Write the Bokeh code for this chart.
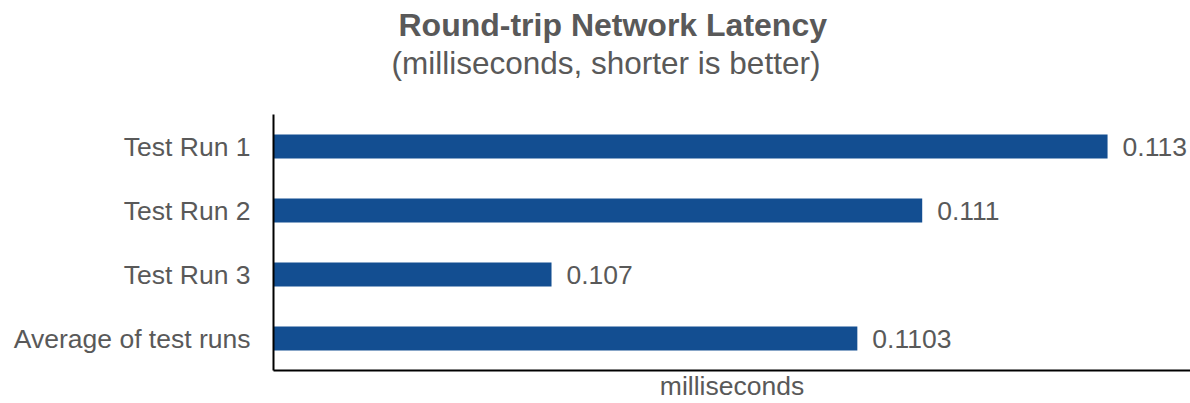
from bokeh.plotting import figure
from bokeh.models import Range1d, Title, ColumnDataSource, FixedTicker
from bokeh.core.properties import value
from bokeh.embed import file_html
from bokeh.resources import INLINE

categories = ["Test Run 1", "Test Run 2", "Test Run 3", "Average of test runs"]
latency_ms = [0.113, 0.111, 0.107, 0.1103]
value_labels = ["0.113", "0.111", "0.107", "0.1103"]
title_text = "Round-trip Network Latency"
subtitle_text = "(milliseconds, shorter is better)"
x_axis_label = "milliseconds"

x_start = 0.104
x_end = 0.113895

FONT = "'Liberation Sans', Arial, sans-serif"
GRAY = "#595959"
BAR = "#134E91"

src = ColumnDataSource(dict(cat=categories, val=latency_ms, lab=value_labels))

p = figure(width=1190, height=403, output_backend="svg", toolbar_location=None,
           y_range=list(reversed(categories)), x_range=Range1d(x_start, x_end),
           min_border_left=273, min_border_right=0, min_border_top=114,
           min_border_bottom=33)
p.title.visible = False

p.hbar(y="cat", left=x_start, right="val", height=0.375, source=src,
       fill_color=BAR, line_color=None)
p.text(x="val", y="cat", text="lab", source=src, x_offset=15,
       text_align="left", text_baseline="middle",
       text_font=value(FONT), text_font_size="26.5px", text_color=GRAY)

p.xgrid.visible = False
p.ygrid.visible = False
p.outline_line_color = None
p.background_fill_color = "white"

p.yaxis.axis_line_color = "black"
p.yaxis.axis_line_width = 2
p.yaxis.major_tick_line_color = None
p.yaxis.minor_tick_line_color = None
p.yaxis.major_tick_out = 0
p.yaxis.major_label_standoff = 23
p.yaxis.major_label_text_font = FONT
p.yaxis.major_label_text_font_size = "26.5px"
p.yaxis.major_label_text_color = GRAY

p.xaxis.ticker = FixedTicker(ticks=[])
p.xaxis.axis_line_color = "black"
p.xaxis.axis_line_width = 2
p.xaxis.major_tick_out = 0
p.xaxis.minor_tick_out = 0
p.xaxis.major_label_standoff = 0
p.xaxis.axis_label = x_axis_label
p.xaxis.axis_label_standoff = 0
p.xaxis.axis_label_text_font = FONT
p.xaxis.axis_label_text_font_size = "26.5px"
p.xaxis.axis_label_text_font_style = "normal"
p.xaxis.axis_label_text_color = GRAY

spacer = Title(text=" ", text_font=FONT, text_font_size="12px", standoff=18)
sub = Title(text=subtitle_text, align="left", offset=118,
            text_font=FONT, text_font_size="31.5px", text_font_style="normal",
            text_color=GRAY, standoff=0)
main = Title(text=title_text, align="left", offset=125,
             text_font=FONT, text_font_size="32px", text_font_style="bold",
             text_color=GRAY, standoff=0)
p.add_layout(spacer, "above")
p.add_layout(sub, "above")
p.add_layout(main, "above")

open("out.html", "w").write(file_html(p, INLINE))
